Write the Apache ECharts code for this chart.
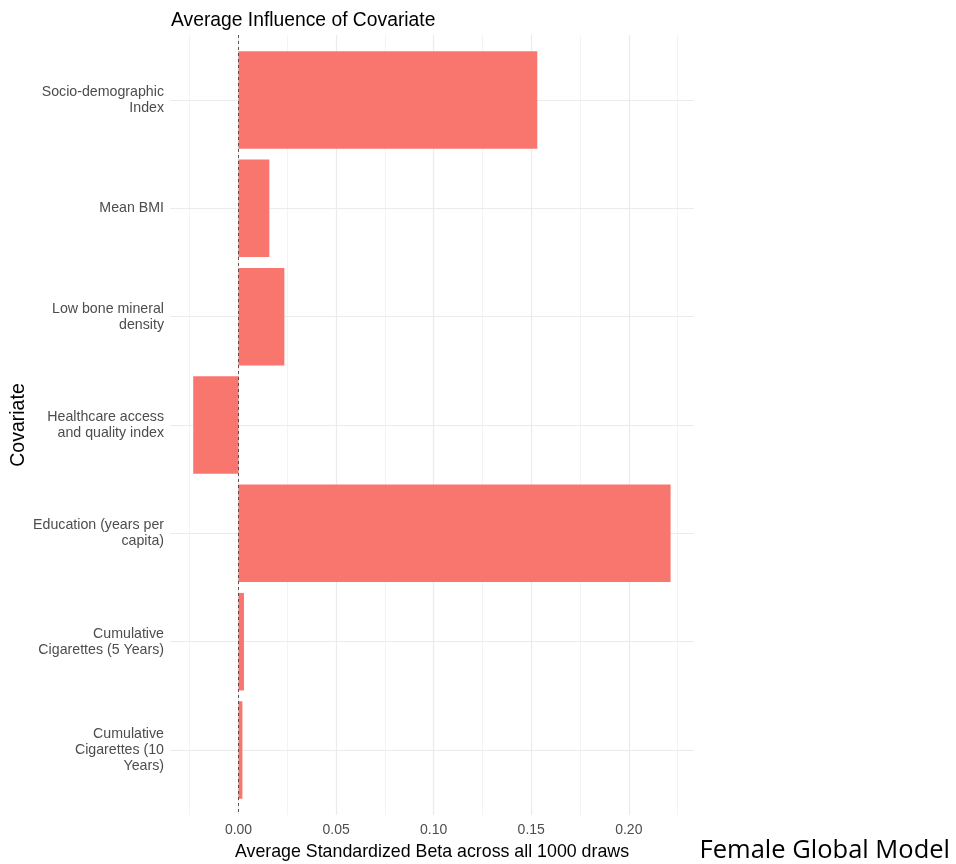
<!DOCTYPE html>
<html>
<head>
<meta charset="utf-8">
<script src="https://cdn.jsdelivr.net/npm/echarts@6/dist/echarts.min.js"></script>
<style>html,body{margin:0;padding:0;background:#fff;}#c{width:956px;height:864px;}</style>
</head>
<body>
<div id="c"></div>
<script>
const categories = ['Socio-demographic\nIndex', 'Mean BMI', 'Low bone mineral\ndensity', 'Healthcare access\nand quality index', 'Education (years per\ncapita)', 'Cumulative\nCigarettes (5 Years)', 'Cumulative\nCigarettes (10\nYears)'];
const values = [0.1531, 0.0158, 0.0235, -0.0232, 0.2214, 0.0028, 0.0020];
const majorTicks = [0, 0.05, 0.10, 0.15, 0.20];
const tickLabels = ['0.00', '0.05', '0.10', '0.15', '0.20'];
const minorTicks = [-0.025, 0.025, 0.075, 0.125, 0.175, 0.225];
const xMin = -0.0351, xMax = 0.2334;

const FONT = 'Liberation Sans';
const chart = echarts.init(document.getElementById('c'), null, {renderer: 'canvas'});

const gridLineData = [];
majorTicks.forEach(v => gridLineData.push({xAxis: v, lineStyle: {width: 1.2}}));
minorTicks.forEach(v => gridLineData.push({xAxis: v, lineStyle: {width: 0.6}}));
categories.forEach((c, i) => gridLineData.push({yAxis: i + 1, lineStyle: {width: 1.2}}));

const option = {
  animation: false,
  backgroundColor: '#fff',
  title: {
    text: 'Average Influence of Covariate',
    left: 166, top: 6,
    textStyle: {fontFamily: FONT, fontSize: 19.3, fontWeight: 'normal', color: '#000'}
  },
  graphic: [{
    type: 'text', z: 20,
    style: {x: 950, y: 851, text: 'Female Global Model', font: '25.5px "Open Sans"', fill: '#000', textAlign: 'right', textVerticalAlign: 'middle'}
  }],
  grid: [
    {left: 170, right: 262, top: 45.8, bottom: 59.8, containLabel: false, outerBoundsMode: 'none'},
    {left: 170, right: 262, top: 35, bottom: 49, containLabel: false, outerBoundsMode: 'none'}
  ],
  xAxis: [
    {gridIndex: 0, type: 'value', min: xMin, max: xMax, show: false},
    {
      gridIndex: 1, type: 'value', min: xMin, max: xMax,
      name: 'Average Standardized Beta across all 1000 draws',
      nameLocation: 'middle', nameGap: 28, nameMoveOverlap: false,
      nameTextStyle: {fontFamily: FONT, fontSize: 17.8, color: '#000'},
      axisLine: {show: false}, axisTick: {show: false}, splitLine: {show: false},
      axisLabel: {
        customValues: majorTicks,
        formatter: v => { const i = majorTicks.findIndex(t => Math.abs(t - v) < 1e-9); return i >= 0 ? tickLabels[i] : ''; },
        fontFamily: FONT, fontSize: 14, color: '#4d4d4d', margin: 8
      }
    }
  ],
  yAxis: [
    {
      gridIndex: 0, type: 'category', data: categories, inverse: true,
      name: 'Covariate', nameLocation: 'middle', nameGap: 141, nameRotate: 90, nameMoveOverlap: false,
      nameTextStyle: {fontFamily: FONT, fontSize: 19.5, color: '#000'},
      axisLine: {show: false}, axisTick: {show: false}, splitLine: {show: false},
      axisLabel: {fontFamily: FONT, fontSize: 14.2, color: '#4d4d4d', margin: 6, align: 'right', lineHeight: 16}
    },
    {gridIndex: 1, type: 'value', min: 0.4, max: 7.6, inverse: true, show: false}
  ],
  series: [
    {
      type: 'line', xAxisIndex: 1, yAxisIndex: 1, data: [], z: 1, silent: true,
      markLine: {
        z: 1, precision: 6,
        silent: true, symbol: ['none', 'none'], label: {show: false},
        lineStyle: {color: '#ebebeb', type: 'solid'},
        emphasis: {disabled: true},
        data: gridLineData
      }
    },
    {
      type: 'bar', xAxisIndex: 0, yAxisIndex: 0, data: values, z: 3,
      barCategoryGap: '10%',
      itemStyle: {color: '#F8766D'}
    },
    {
      type: 'line', xAxisIndex: 1, yAxisIndex: 1, data: [], z: 10, silent: true,
      markLine: {
        z: 10, precision: 6,
        silent: true, symbol: ['none', 'none'], label: {show: false},
        lineStyle: {color: '#333', type: [3, 3], width: 0.8},
        emphasis: {disabled: true},
        data: [{xAxis: 0}]
      }
    }
  ]
};
chart.setOption(option);
</script>
</body>
</html>
